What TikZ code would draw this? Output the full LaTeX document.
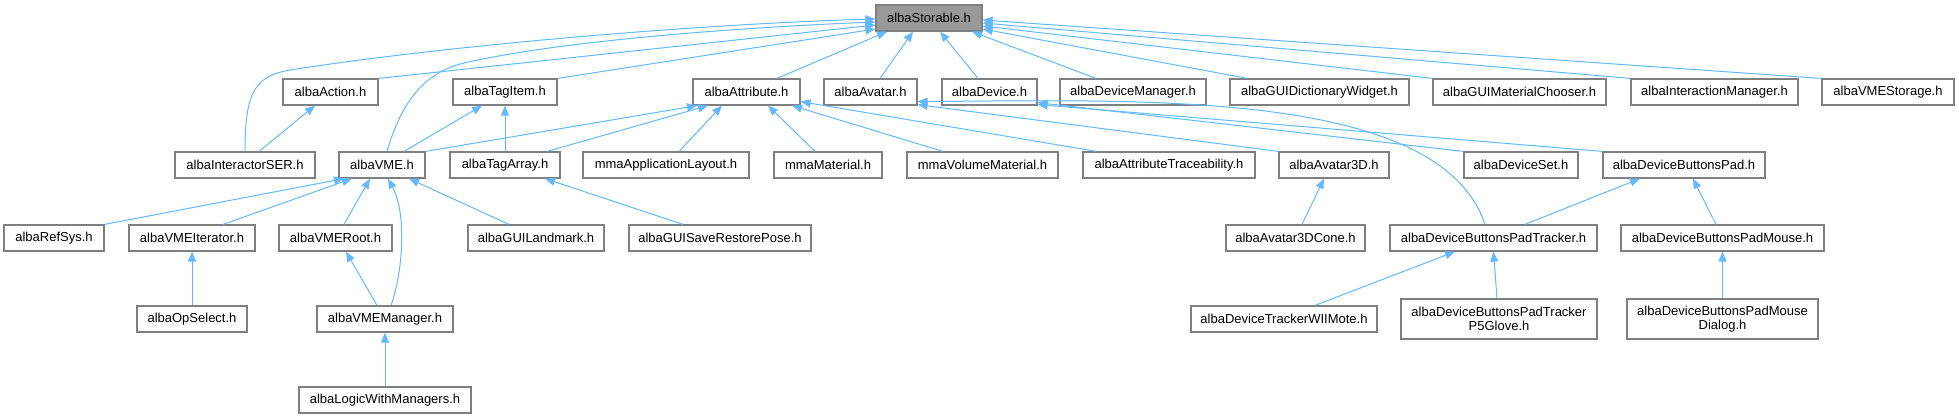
\documentclass[tikz,border=0pt]{standalone}
\usepackage{fontspec}
\setmainfont{Liberation Sans}
\usetikzlibrary{arrows.meta}
\definecolor{DoxyEdge}{HTML}{63B8FF}
\definecolor{DoxyFrame}{HTML}{7F7F7F}
\definecolor{DoxyRoot}{HTML}{999999}

\begin{document}
\begin{tikzpicture}[
        x=1pt, y=-1pt,
        filenode/.style={rectangle, draw=DoxyFrame, fill=white, line width=1.2pt, minimum height=26pt, inner sep=0pt, align=center, font=\fontsize{13}{14.5}\selectfont},
        rootnode/.style={filenode, fill=DoxyRoot},
        includes/.style={draw=DoxyEdge, line width=1pt, -{Triangle[length=10pt,width=8pt]}}
    ]
        \useasboundingbox (0,0) rectangle (1959,417);

        % Root
        \node (storable) [rootnode, minimum width=106pt] at (929,18) {albaStorable.h};

        % Row 1
        \node (action) [filenode, minimum width=95pt] at (330.5,92) {albaAction.h};
        \node (tagitem) [filenode, minimum width=104pt] at (505,92) {albaTagItem.h};
        \node (attribute) [filenode, minimum width=107pt] at (746.5,92) {albaAttribute.h};
        \node (avatar) [filenode, minimum width=93pt] at (870.5,92) {albaAvatar.h};
        \node (device) [filenode, minimum width=95pt] at (989.5,92) {albaDevice.h};
        \node (devmanager) [filenode, minimum width=146pt] at (1133,92) {albaDeviceManager.h};
        \node (guidict) [filenode, minimum width=179pt] at (1319.5,92) {albaGUIDictionaryWidget.h};
        \node (guimat) [filenode, minimum width=173pt] at (1519.5,92) {albaGUIMaterialChooser.h};
        \node (interman) [filenode, minimum width=167pt] at (1714.5,92) {albaInteractionManager.h};
        \node (vmestorage) [filenode, minimum width=132pt] at (1888,92) {albaVMEStorage.h};

        % Row 2
        \node (interactorser) [filenode, minimum width=140pt] at (245,165) {albaInteractorSER.h};
        \node (vme) [filenode, minimum width=86pt] at (382,165) {albaVME.h};
        \node (tagarray) [filenode, minimum width=110pt] at (505,165) {albaTagArray.h};
        \node (applayout) [filenode, minimum width=166pt] at (666,165) {mmaApplicationLayout.h};
        \node (mmamaterial) [filenode, minimum width=108pt] at (828,165) {mmaMaterial.h};
        \node (volmaterial) [filenode, minimum width=151pt] at (982.5,165) {mmaVolumeMaterial.h};
        \node (traceability) [filenode, minimum width=172pt] at (1169,165) {albaAttributeTraceability.h};
        \node (avatar3d) [filenode, minimum width=110pt] at (1334,165) {albaAvatar3D.h};
        \node (deviceset) [filenode, minimum width=114pt] at (1521,165) {albaDeviceSet.h};
        \node (buttonspad) [filenode, minimum width=162pt] at (1684,165) {albaDeviceButtonsPad.h};

        % Row 3
        \node (refsys) [filenode, minimum width=100pt] at (54,238) {albaRefSys.h};
        \node (vmeiterator) [filenode, minimum width=126pt] at (192,238) {albaVMEIterator.h};
        \node (vmeroot) [filenode, minimum width=113pt] at (335.5,238) {albaVMERoot.h};
        \node (guilandmark) [filenode, minimum width=136pt] at (536,238) {albaGUILandmark.h};
        \node (saverestore) [filenode, minimum width=182pt] at (720,238) {albaGUISaveRestorePose.h};
        \node (avatar3dcone) [filenode, minimum width=139pt] at (1295.5,238) {albaAvatar3DCone.h};
        \node (padtracker) [filenode, minimum width=207pt] at (1493.5,238) {albaDeviceButtonsPadTracker.h};
        \node (padmouse) [filenode, minimum width=203pt] at (1722.5,238) {albaDeviceButtonsPadMouse.h};

        % Row 4
        \node (opselect) [filenode, minimum width=110pt] at (192,319) {albaOpSelect.h};
        \node (vmemanager) [filenode, minimum width=136pt] at (385,319) {albaVMEManager.h};
        \node (wiimote) [filenode, minimum width=186pt] at (1284,319) {albaDeviceTrackerWIIMote.h};
        \node (p5glove) [filenode, minimum width=196pt, minimum height=40pt] at (1499,319) {albaDeviceButtonsPadTracker\\P5Glove.h};
        \node (mousedialog) [filenode, minimum width=191pt, minimum height=40pt] at (1722.5,319) {albaDeviceButtonsPadMouse\\Dialog.h};

        % Row 5
        \node (logic) [filenode, minimum width=172pt] at (385,400) {albaLogicWithManagers.h};

        % Includes of albaStorable.h
        \draw [includes] (interactorser.north) .. controls (245,92) and (255,76) .. (290,70) .. controls (450,45) and (700,24) .. ([yshift=-1pt]storable.west);
        \draw [includes] ([xshift=5pt]vme.north) .. controls (402,100) and (425,74) .. (460,64) .. controls (560,40) and (750,27) .. ([yshift=-4pt]storable.west);
        \draw [includes] (action.north east) -- ([yshift=-7pt]storable.west);
        \draw [includes] (tagitem.north east) -- ([yshift=-11pt]storable.west);
        \draw [includes] ([xshift=30.5pt]attribute.north) -- ([xshift=-42pt]storable.south);
        \draw [includes] ([xshift=9.5pt]avatar.north) -- ([xshift=-16pt]storable.south);
        \draw [includes] ([xshift=-11.5pt]device.north) -- ([xshift=11pt]storable.south);
        \draw [includes] ([xshift=-37pt]devmanager.north) -- ([xshift=43pt]storable.south);
        \draw [includes] ([xshift=18pt]guidict.north west) -- ([yshift=-11pt]storable.east);
        \draw [includes] (guimat.north west) -- ([yshift=-8pt]storable.east);
        \draw [includes] (interman.north west) -- ([yshift=-5pt]storable.east);
        \draw [includes] (vmestorage.north west) -- ([yshift=-2pt]storable.east);

        % Row 2 to row 1
        \draw [includes] ([xshift=14pt]interactorser.north) -- ([xshift=-15.5pt]action.south);
        \draw [includes] ([xshift=22pt]vme.north) -- ([xshift=-23pt]tagitem.south);
        \draw [includes] (tagarray.north) -- (tagitem.south);
        \draw [includes] (vme.north east) -- ([xshift=-49.5pt]attribute.south);
        \draw [includes] ([xshift=42pt]tagarray.north) -- ([xshift=-38.5pt]attribute.south);
        \draw [includes] ([xshift=13pt]applayout.north) -- ([xshift=-24.5pt]attribute.south);
        \draw [includes] ([xshift=-13pt]mmamaterial.north) -- ([xshift=21.5pt]attribute.south);
        \draw [includes] ([xshift=-39.5pt]volmaterial.north) -- ([xshift=45.5pt]attribute.south);
        \draw [includes] ([xshift=14pt]traceability.north west) -- ([yshift=4pt]attribute.south east);
        \draw [includes] (avatar3d.north west) -- ([yshift=1pt]avatar.south east);
        \draw [includes] ([xshift=-8.5pt]padtracker.north) .. controls (1440,90) and (1150,100) .. ([yshift=4pt]avatar.south east);
        \draw [includes] (deviceset.north west) -- ([yshift=3pt]device.south east);
        \draw [includes] (buttonspad.north west) -- ([yshift=1pt]device.south east);

        % Row 3 to row 2
        \draw [includes] (refsys.north east) -- ([xshift=-38pt]vme.south);
        \draw [includes] ([xshift=31pt]vmeiterator.north) -- ([xshift=-30pt]vme.south);
        \draw [includes] ([xshift=8.5pt]vmeroot.north) -- ([xshift=-12pt]vme.south);
        \draw [includes] ([xshift=6pt]vmemanager.north) .. controls (404,268) and (406,212) .. ([xshift=6pt]vme.south);
        \draw [includes] ([xshift=-27pt]guilandmark.north) -- ([xshift=27pt]vme.south);
        \draw [includes] ([xshift=-37pt]saverestore.north) -- ([xshift=40pt]tagarray.south);
        \draw [includes] ([xshift=6.5pt]avatar3dcone.north) -- ([xshift=-10pt]avatar3d.south);
        \draw [includes] ([xshift=31.5pt]padtracker.north) -- ([xshift=-44pt]buttonspad.south);
        \draw [includes] ([xshift=-6.5pt]padmouse.north) -- ([xshift=9pt]buttonspad.south);

        % Lower rows
        \draw [includes] (opselect.north) -- (vmeiterator.south);
        \draw [includes] ([xshift=-8pt]vmemanager.north) -- ([xshift=10.5pt]vmeroot.south);
        \draw [includes] ([xshift=31pt]wiimote.north) -- ([xshift=-38.5pt]padtracker.south);
        \draw [includes] ([xshift=-2pt]p5glove.north) -- (padtracker.south);
        \draw [includes] (mousedialog.north) -- (padmouse.south);
        \draw [includes] (logic.north) -- (vmemanager.south);
    \end{tikzpicture}
\end{document}
